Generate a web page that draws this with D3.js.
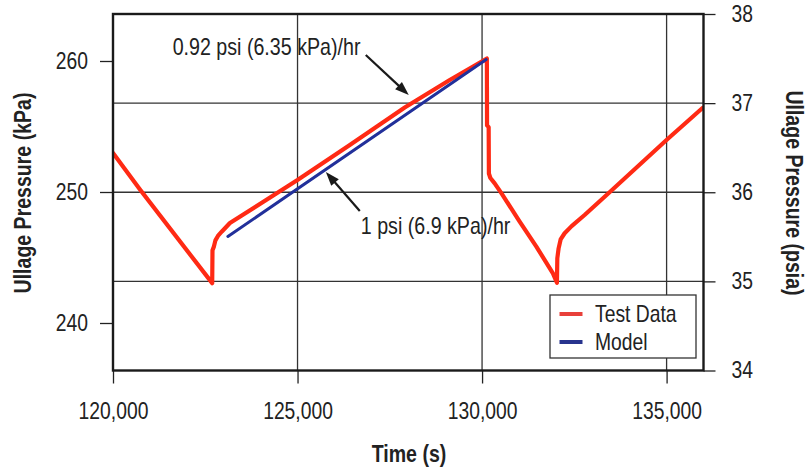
<!DOCTYPE html>
<html>
<head>
<meta charset="utf-8">
<script src="https://cdn.jsdelivr.net/npm/d3@7"></script>
<style>
  html, body { margin: 0; padding: 0; background: #fff; }
  svg { display: block; }
</style>
</head>
<body>
<svg id="chart" width="805" height="472"></svg>
<script>
// Ullage pressure during a self-pressurization test: measured data vs. model

// Measured ullage pressure (time in s, pressure in psia)
const testTime = [120000, 120731, 122688, 122696, 122734, 122775, 122843, 122951, 123168,
  125009, 126416, 127905, 129124, 130130, 130135, 130179, 130185, 130225, 130342, 130523,
  131019, 131471, 131920, 132029, 132039, 132074, 132129, 132237, 132427, 132778, 133455,
  134998, 135973];
const testPsia = [36.44, 36.03, 34.98, 35.35, 35.39, 35.46, 35.51, 35.56, 35.655,
  36.14, 36.53, 36.95, 37.26, 37.50, 36.75, 36.73, 36.21, 36.16, 36.10, 35.99,
  35.67, 35.39, 35.09, 34.985, 35.26, 35.37, 35.47, 35.54, 35.62, 35.745, 36.00,
  36.586, 36.945];

// Model prediction for the pressure rise (1 psi/hr)
const modelTime = [123113, 130112];
const modelPsia = [35.504, 37.489];

// Axis ticks
const timeTicks = [120000, 125000, 130000, 135000];
const kpaTicks = [240, 250, 260];
const psiaTicks = [34, 35, 36, 37, 38];

// Rate annotations: text anchor and arrow tail/tip in data units
const noteText  = ["0.92 psi (6.35 kPa)/hr", "1 psi (6.9 kPa)/hr"];
const noteTextT = [121616, 126714];
const noteTextP = [37.54, 35.537];
const arrowTailT = [126849, 126687];
const arrowTailP = [37.54, 35.79];
const arrowTipT  = [128014, 125767];
const arrowTipP  = [37.09, 36.227];

const legendNames = ["Test Data", "Model"];
const seriesColors = ["#ff2a14", "#22309a"];
const legendColors = ["#e8403a", "#28348e"];

const FONT = "'Liberation Sans', Arial, Helvetica, sans-serif";
const SX = 0.84;          // narrow typeface look
const INK = "#222";

const svg = d3.select("#chart");
svg.append("rect").attr("width", 805).attr("height", 472).attr("fill", "#fff");

const x = d3.scaleLinear().domain([120000, 136000]).range([113, 703.5]);
const yPsia = d3.scaleLinear().domain([34, 38]).range([370.5, 14]);
const yKpa = d3.scaleLinear().domain([240, 260]).range([323, 61]);

const L = x.range()[0], R = x.range()[1];
const T = yPsia.range()[1], B = yPsia.range()[0];

function squeeze(g, sx) {
  g.selectAll("text").each(function () {
    const t = d3.select(this);
    const tx = +t.attr("x") || 0, ty = +t.attr("y") || 0;
    t.attr("x", 0).attr("y", 0)
      .attr("transform", `translate(${tx},${ty}) scale(${sx},1)`);
  });
}

function styleAxis(g) {
  g.attr("font-family", FONT).attr("font-size", 23).style("color", INK);
  g.select(".domain").remove();
  g.selectAll(".tick line").attr("stroke-width", 1.3);
  g.selectAll(".tick text").attr("fill", INK);
}

// Grid
const grid = svg.append("g").attr("stroke", "#333").attr("stroke-width", 1.3);
grid.selectAll("line.h").data([35, 36, 37]).join("line")
  .attr("x1", L).attr("x2", R).attr("y1", d => yPsia(d)).attr("y2", d => yPsia(d));
grid.selectAll("line.v").data(timeTicks.slice(1)).join("line")
  .attr("y1", T).attr("y2", B).attr("x1", d => x(d)).attr("x2", d => x(d));

// Axes
const gx = svg.append("g").attr("transform", `translate(0,${B})`)
  .call(d3.axisBottom(x).tickValues(timeTicks).tickFormat(d3.format(",")).tickSize(13).tickPadding(19));
styleAxis(gx); squeeze(gx, SX);

const gl = svg.append("g").attr("transform", `translate(${L},0)`)
  .call(d3.axisLeft(yKpa).tickValues(kpaTicks).tickFormat(d3.format("d")).tickSize(13).tickPadding(12));
styleAxis(gl); squeeze(gl, SX);

const gr = svg.append("g").attr("transform", `translate(${R},0)`)
  .call(d3.axisRight(yPsia).tickValues(psiaTicks).tickFormat(d3.format("d")).tickSize(12).tickPadding(16));
styleAxis(gr); squeeze(gr, SX);

// Data
svg.append("clipPath").attr("id", "plotClip")
  .append("rect").attr("x", L).attr("y", T).attr("width", R - L).attr("height", B - T);

const line = d3.line().x(d => x(d[0])).y(d => yPsia(d[1]));
const plot = svg.append("g").attr("clip-path", "url(#plotClip)");

plot.append("path")
  .datum(testTime.map((t, i) => [t, testPsia[i]]))
  .attr("d", line).attr("fill", "none")
  .attr("stroke", seriesColors[0]).attr("stroke-width", 4.2)
  .attr("stroke-linejoin", "round").attr("stroke-linecap", "round");

plot.append("path")
  .datum(modelTime.map((t, i) => [t, modelPsia[i]]))
  .attr("d", line).attr("fill", "none")
  .attr("stroke", seriesColors[1]).attr("stroke-width", 3)
  .attr("stroke-linecap", "round");

// Plot frame
svg.append("rect").attr("x", L).attr("y", T).attr("width", R - L).attr("height", B - T)
  .attr("fill", "none").attr("stroke", "#1a1a1a").attr("stroke-width", 2.4);

// Annotations
function addText(str, tx, ty, opts = {}) {
  return svg.append("text")
    .attr("transform", `translate(${tx},${ty})${opts.rotate ? ` rotate(${opts.rotate})` : ""} scale(${opts.sx || SX},1)`)
    .attr("font-family", FONT).attr("font-size", opts.size || 23)
    .attr("font-weight", opts.bold ? "bold" : "normal")
    .attr("text-anchor", opts.anchor || "start")
    .attr("fill", INK).text(str);
}

noteText.forEach((s, i) => {
  addText(s, x(noteTextT[i]), yPsia(noteTextP[i]), { sx: 0.855 });
  const x0 = x(arrowTailT[i]), y0 = yPsia(arrowTailP[i]);
  const x1 = x(arrowTipT[i]), y1 = yPsia(arrowTipP[i]);
  const len = Math.hypot(x1 - x0, y1 - y0);
  const ux = (x1 - x0) / len, uy = (y1 - y0) / len;
  const hl = 14, hw = 5;
  const bx = x1 - ux * hl, by = y1 - uy * hl;
  svg.append("line").attr("x1", x0).attr("y1", y0).attr("x2", bx + ux * 2).attr("y2", by + uy * 2)
    .attr("stroke", "#1a1a1a").attr("stroke-width", 2.2);
  svg.append("path")
    .attr("d", `M${x1},${y1}L${bx - uy * hw},${by + ux * hw}L${bx + uy * hw},${by - ux * hw}Z`)
    .attr("fill", "#1a1a1a");
});

// Axis titles
addText("Ullage Pressure (kPa)", 30.5, 193, { bold: true, anchor: "middle", rotate: -90, sx: 0.85 });
addText("Ullage Pressure (psia)", 786, 193, { bold: true, anchor: "middle", rotate: 90, sx: 0.85 });
addText("Time (s)", 409, 462, { bold: true, anchor: "middle", sx: 0.85 });

// Legend
const lg = svg.append("g").attr("transform", "translate(550,295)");
lg.append("rect").attr("width", 146).attr("height", 63)
  .attr("fill", "#fff").attr("stroke", "#333").attr("stroke-width", 1.3);
legendNames.forEach((name, i) => {
  const cy = 19 + i * 28;
  lg.append("line").attr("x1", 9.5).attr("x2", 32.5).attr("y1", cy).attr("y2", cy)
    .attr("stroke", legendColors[i]).attr("stroke-width", 4);
  lg.append("text")
    .attr("transform", `translate(45,${cy + 7.5}) scale(${SX},1)`)
    .attr("font-family", FONT).attr("font-size", 23).attr("fill", INK).text(name);
});
</script>
</body>
</html>
